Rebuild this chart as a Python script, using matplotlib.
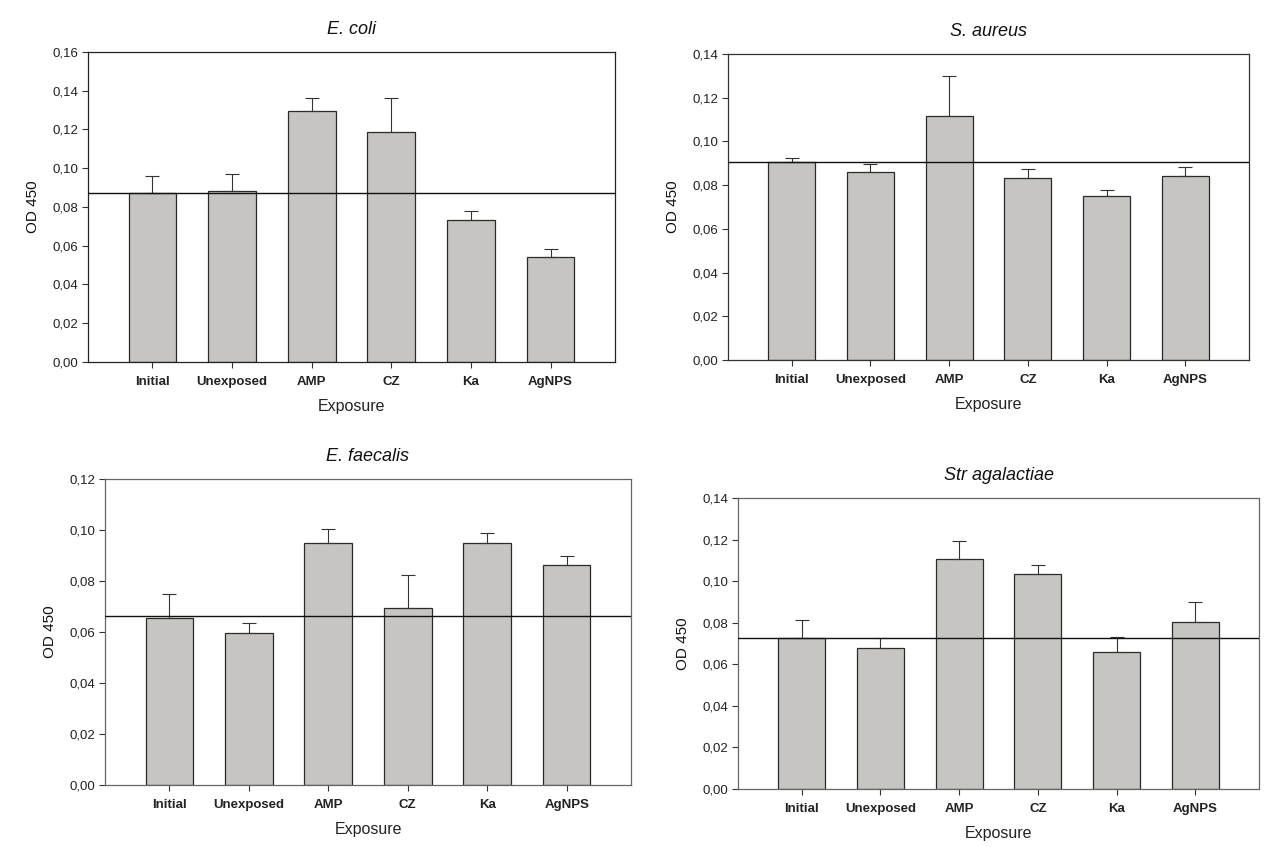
import matplotlib
matplotlib.use("Agg")
import matplotlib.pyplot as plt
import numpy as np

plt.rcParams['font.family'] = ['Liberation Sans', 'DejaVu Sans']

categories = ["Initial", "Unexposed", "AMP", "CZ", "Ka", "AgNPS"]

titles = ["E. coli", "S. aureus", "E. faecalis", "Str agalactiae"]

ecoli_vals = [0.0870, 0.0885, 0.1295, 0.1187, 0.0732, 0.0541]
ecoli_errs = [0.0091, 0.0086, 0.0066, 0.0174, 0.0046, 0.0041]
ecoli_ref = 0.0871

saureus_vals = [0.0906, 0.0860, 0.1118, 0.0831, 0.0749, 0.0843]
saureus_errs = [0.0020, 0.0037, 0.0180, 0.0043, 0.0027, 0.0042]
saureus_ref = 0.0906

efaecalis_vals = [0.0653, 0.0595, 0.0949, 0.0694, 0.0949, 0.0862]
efaecalis_errs = [0.0096, 0.0040, 0.0055, 0.0129, 0.0039, 0.0036]
efaecalis_ref = 0.0661

stragal_vals = [0.0726, 0.0678, 0.1106, 0.1034, 0.0659, 0.0803]
stragal_errs = [0.0085, 0.0048, 0.0087, 0.0044, 0.0071, 0.0097]
stragal_ref = 0.0726

ymaxes = [0.16, 0.14, 0.12, 0.14]

panels = [
    (ecoli_vals, ecoli_errs, ecoli_ref),
    (saureus_vals, saureus_errs, saureus_ref),
    (efaecalis_vals, efaecalis_errs, efaecalis_ref),
    (stragal_vals, stragal_errs, stragal_ref),
]

W, H = 1287, 847
boxes = [  # left, top, right, bottom in pixels
    (88, 52, 615, 362),
    (728, 54, 1249, 360),
    (105, 479, 631, 785),
    (738, 498, 1259, 789),
]
spine_colors = ['#222222', '#333333', '#666666', '#666666']

fig = plt.figure(figsize=(W / 100, H / 100), dpi=100)

for i, ((vals, errs, ref), (l, t, r, b)) in enumerate(zip(panels, boxes)):
    ax = fig.add_axes([l / W, 1 - b / H, (r - l) / W, (b - t) / H])
    x = np.arange(len(categories))
    yerr = [np.zeros(len(errs)), errs]
    ax.bar(x, vals, width=0.6, color='#c6c5c2', edgecolor='#2a2a2a',
           linewidth=0.9, zorder=2)
    ax.errorbar(x, vals, yerr=yerr, fmt='none', ecolor='#333333',
                elinewidth=0.8, capsize=5, capthick=0.8, zorder=3)
    ax.axhline(ref, color='#111111', linewidth=1.0, zorder=4)
    ax.set_xlim(-0.81, len(categories) - 1 + 0.81)
    ymax = ymaxes[i]
    ax.set_ylim(0, ymax)
    yt = np.arange(0, ymax + 1e-9, 0.02)
    ax.set_yticks(yt)
    ax.set_yticklabels([f"{v:.2f}".replace('.', ',') for v in yt],
                       fontsize=9.5, color='#222222')
    ax.set_xticks(x)
    ax.set_xticklabels(categories, fontsize=9.5, fontweight='bold',
                       color='#222222')
    ax.tick_params(axis='y', direction='out', length=4, width=0.8,
                   pad=3, colors='#333333', labelcolor='#222222')
    ax.tick_params(axis='x', direction='out', length=4, width=0.8,
                   pad=6, colors='#333333', labelcolor='#222222')
    for s in ax.spines.values():
        s.set_color(spine_colors[i])
        s.set_linewidth(0.9)
    ax.set_title(titles[i], fontsize=13, style='italic', pad=13,
                 color='#111111')
    ax.set_xlabel("Exposure", fontsize=11.5, labelpad=8, color='#222222')
    ax.set_ylabel("OD 450", fontsize=11, labelpad=9, color='#111111')

fig.savefig("out.png", dpi=100, facecolor='white')
